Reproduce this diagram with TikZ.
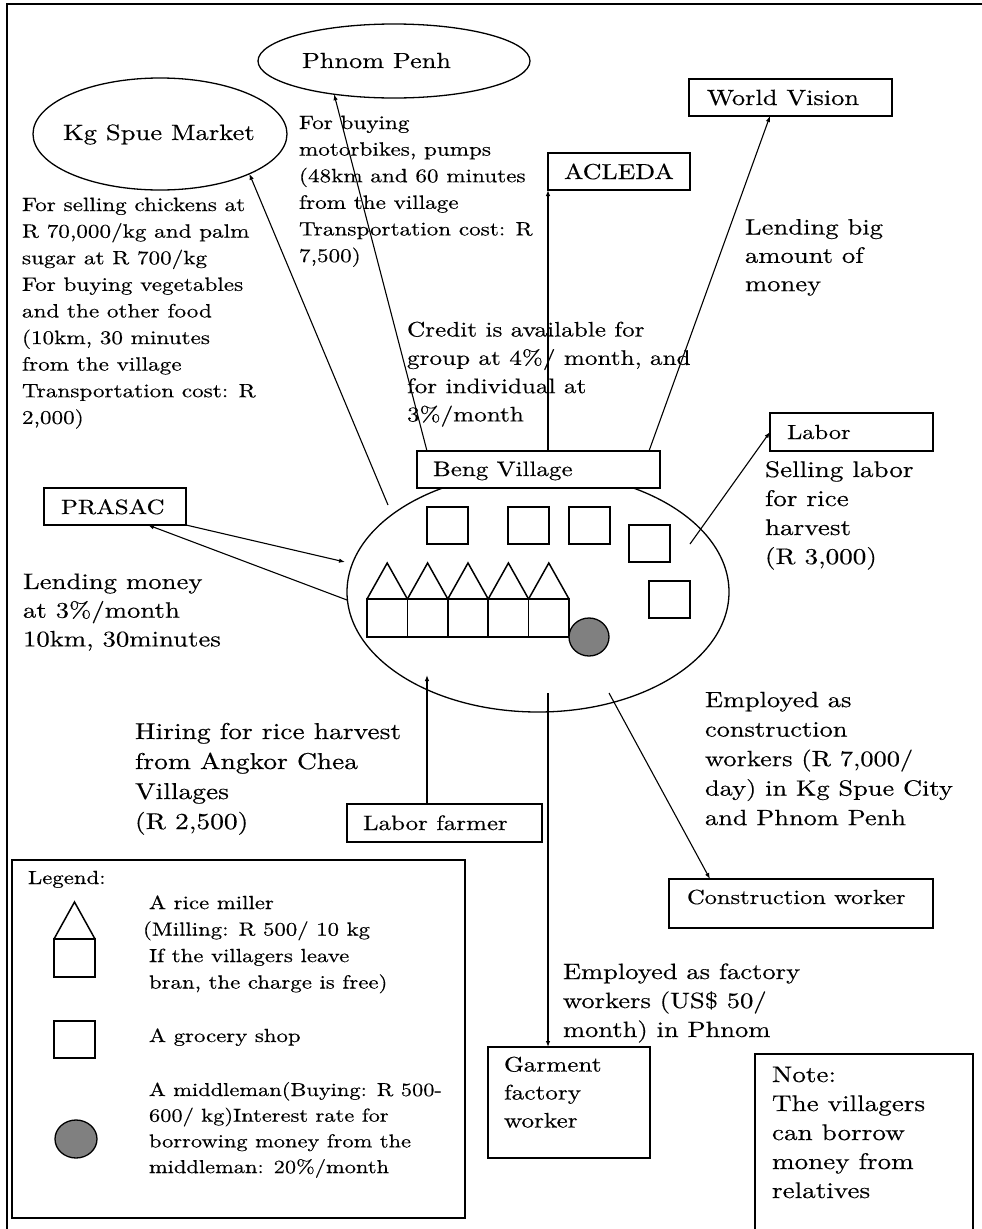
\documentclass[tikz,border=0pt]{standalone}
\usepackage{fontspec}
\setmainfont{lmroman10-regular.otf}[FakeStretch=1.2, FakeBold=0.35]
\usetikzlibrary{arrows.meta,shapes.geometric}
\newcommand\tsz[2]{\fontsize{#1}{#2}\selectfont}
\definecolor{midgray}{HTML}{808080}

\begin{document}
\begin{tikzpicture}[x=1pt,y=-1pt,
  every node/.style={inner sep=0pt, outer sep=0pt},
  box/.style={draw, line width=1.6pt, fill=white, anchor=north west},
  oval/.style={draw, ellipse, line width=1.3pt},
  shop/.style={draw, line width=1.5pt, fill=white},
  arr/.style={line width=1.1pt, -{Latex[length=6pt,width=4.5pt]}},
  tag/.style={anchor=base west},
  para/.style={anchor=north west, align=left},
]
\useasboundingbox (0,0) rectangle (982,1229);

% page frame (top and left edges)
\draw[line width=1.2pt] (7,1240) -- (7,4) -- (990,4);

% destinations
\node[oval, minimum width=272pt, minimum height=74pt] (pp) at (394,61) {};
\node[tag, font=\tsz{21.9}{26}] (pptext) at (302,68) {Phnom Penh};
\node[oval, minimum width=254pt, minimum height=112pt] (kgspue) at (160,134) {};
\node[tag, font=\tsz{22.2}{26}] (kgtext) at (63,140) {Kg Spue Market};

\node[box, minimum width=203pt, minimum height=37pt] (wv) at (689,79) {};
\node[tag, font=\tsz{22}{26}] (wvtext) at (707,105) {World Vision};
\node[box, minimum width=142pt, minimum height=37pt] (acleda) at (548,153) {};
\node[tag, font=\tsz{21.6}{26}] (acledatext) at (564,179) {ACLEDA};
\node[box, minimum width=163pt, minimum height=38pt] (labor) at (770,413) {};
\node[tag, font=\tsz{20.4}{26}] (labortext) at (787,439) {Labor};
\node[box, minimum width=142pt, minimum height=37pt] (prasac) at (44,488) {};
\node[tag, font=\tsz{20.7}{26}] (prasactext) at (61,514) {PRASAC};

% the village
\node[oval, minimum width=382pt, minimum height=240pt] (village) at (538,592) {};
\node[box, minimum width=243pt, minimum height=37pt] (beng) at (417,451) {};
\node[tag, font=\tsz{20.9}{26}] (bengtext) at (433,476) {Beng Village};

% grocery shops
\foreach \gx/\gy in {427/507, 508/507, 569/507, 629/525, 649/581}
  \draw[shop] (\gx,\gy) rectangle ++(41,37);
% rice millers
\foreach \i in {0,...,4} {
  \draw[shop] (367+40.4*\i,599) rectangle ++(40.4,38);
  \draw[line width=1.5pt, line join=miter] (367+40.4*\i,599) -- ++(20.2,-36) -- ++(20.2,36);
}
% middleman
\draw[line width=1.3pt, fill=midgray] (589,637) ellipse [x radius=20pt, y radius=19pt];

% people and work places
\node[box, minimum width=195pt, minimum height=38pt] (lf) at (347,804) {};
\node[tag, font=\tsz{20.8}{26}] (lftext) at (363,830) {Labor farmer};
\node[box, minimum width=264pt, minimum height=49pt] (cw) at (669,879) {};
\node[tag, font=\tsz{20.4}{26}] (cwtext) at (687,904) {Construction worker};
\node[box, minimum width=162pt, minimum height=111pt] (gf) at (488,1047) {};
\node[para, font=\tsz{21}{28}] (gftext) at (504,1051.9) {\strut Garment\\factory\\worker};
\node[box, minimum width=218pt, minimum height=200pt] (note) at (755,1054) {};
\node[para, font=\tsz{22.6}{29}] (notetext) at (772,1061.7)
  {\strut Note:\\The villagers\\can borrow\\money from\\relatives};

% connectors
\coordinate (vks) at (388,505);
\draw[arr] (vks) -- (kgspue.-24);
\draw[arr] ([xshift=10pt]beng.north west) -- (pp.-151);
\draw[arr] (acleda.south west |- beng.north) -- (acleda.south west);
\draw[arr] ([xshift=-11pt]beng.north east) -- ([xshift=81pt]wv.south west);
\coordinate (vlab) at (690,544);
\draw[arr] (vlab) -- (labor.west);
\coordinate (vpin) at (345,562);
\draw[arr] (prasac.south east) -- (vpin);
\coordinate (vpout) at (347,600);
\draw[arr] (vpout) -- ([xshift=104pt]prasac.south west);
\coordinate (vlf) at (427,675);
\draw[arr] ([xshift=80pt]lf.north west) -- (vlf);
\coordinate (vgf) at (548,693);
\draw[arr] (vgf) -- ([xshift=60pt]gf.north west);
\coordinate (vcw) at (609,693);
\draw[arr] (vcw) -- ([xshift=41pt]cw.north west);

% explanations
\node[para, font=\tsz{19.3}{26.6}] (kgnote) at (22,192.4)
  {\strut For selling chickens at\\R 70,000/kg and palm\\sugar at R 700/kg\\For buying vegetables\\and the other food\\(10km, 30 minutes\\from the village\\Transportation cost: R\\2,000)};
\node[para, font=\tsz{19.3}{26.6}] (ppnote) at (299,110.4)
  {\strut For buying\\motorbikes, pumps\\(48km and 60 minutes\\from the village\\Transportation cost: R\\7,500)};
\node[para, font=\tsz{21}{28.3}] (acnote) at (407,316.7)
  {\strut Credit is available for\\group at 4\%/ month, and\\for individual at\\3\%/month};
\node[para, font=\tsz{22.2}{28.3}] (wvnote) at (745,214.7)
  {\strut Lending big\\amount of\\money};
\node[para, font=\tsz{22.6}{29}] (labnote) at (765,456.7)
  {\strut Selling labor\\for rice\\harvest\\(R 3,000)};
\node[para, font=\tsz{22.3}{28.7}] (prnote) at (23,568.9)
  {\strut Lending money\\at 3\%/month\\10km, 30minutes};
\node[para, font=\tsz{22.9}{30}] (lfnote) at (135,718)
  {\strut Hiring for rice harvest\\from Angkor Chea\\Villages\\(R 2,500)};
\node[para, font=\tsz{22}{29.5}] (cwnote) at (705,686.4)
  {\strut Employed as\\construction\\workers (R 7,000/\\day) in Kg Spue City\\and Phnom Penh};
\node[para, font=\tsz{22.1}{29}] (gfnote) at (563,958.7)
  {\strut Employed as factory\\workers (US\$ 50/\\month) in Phnom};

% legend
\node[box, minimum width=453pt, minimum height=358pt] (legend) at (12,860) {};
\node[tag, font=\tsz{19}{26}] (legendtitle) at (28,884) {Legend:};
\draw[shop] (54,939) rectangle (95,977);
\draw[line width=1.5pt, line join=miter] (54,939) -- (74.5,902) -- (95,939);
\node[para, font=\tsz{19}{26.5}] (millkey) at (149,890.5)
  {\strut A rice miller\\\hspace*{-6pt}(Milling: R 500/ 10 kg\\If the villagers leave\\bran, the charge is free)};
\draw[shop] (54,1021) rectangle (95,1058);
\node[tag, font=\tsz{19}{26}] (shopkey) at (149,1042) {A grocery shop};
\draw[line width=1.3pt, fill=midgray] (76,1139) ellipse [x radius=21pt, y radius=19pt];
\node[para, font=\tsz{18.7}{25.7}] (midkey) at (149,1078)
  {\strut A middleman(Buying: R 500-\\600/ kg)Interest rate for\\borrowing money from the\\middleman: 20\%/month};
\end{tikzpicture}
\end{document}
